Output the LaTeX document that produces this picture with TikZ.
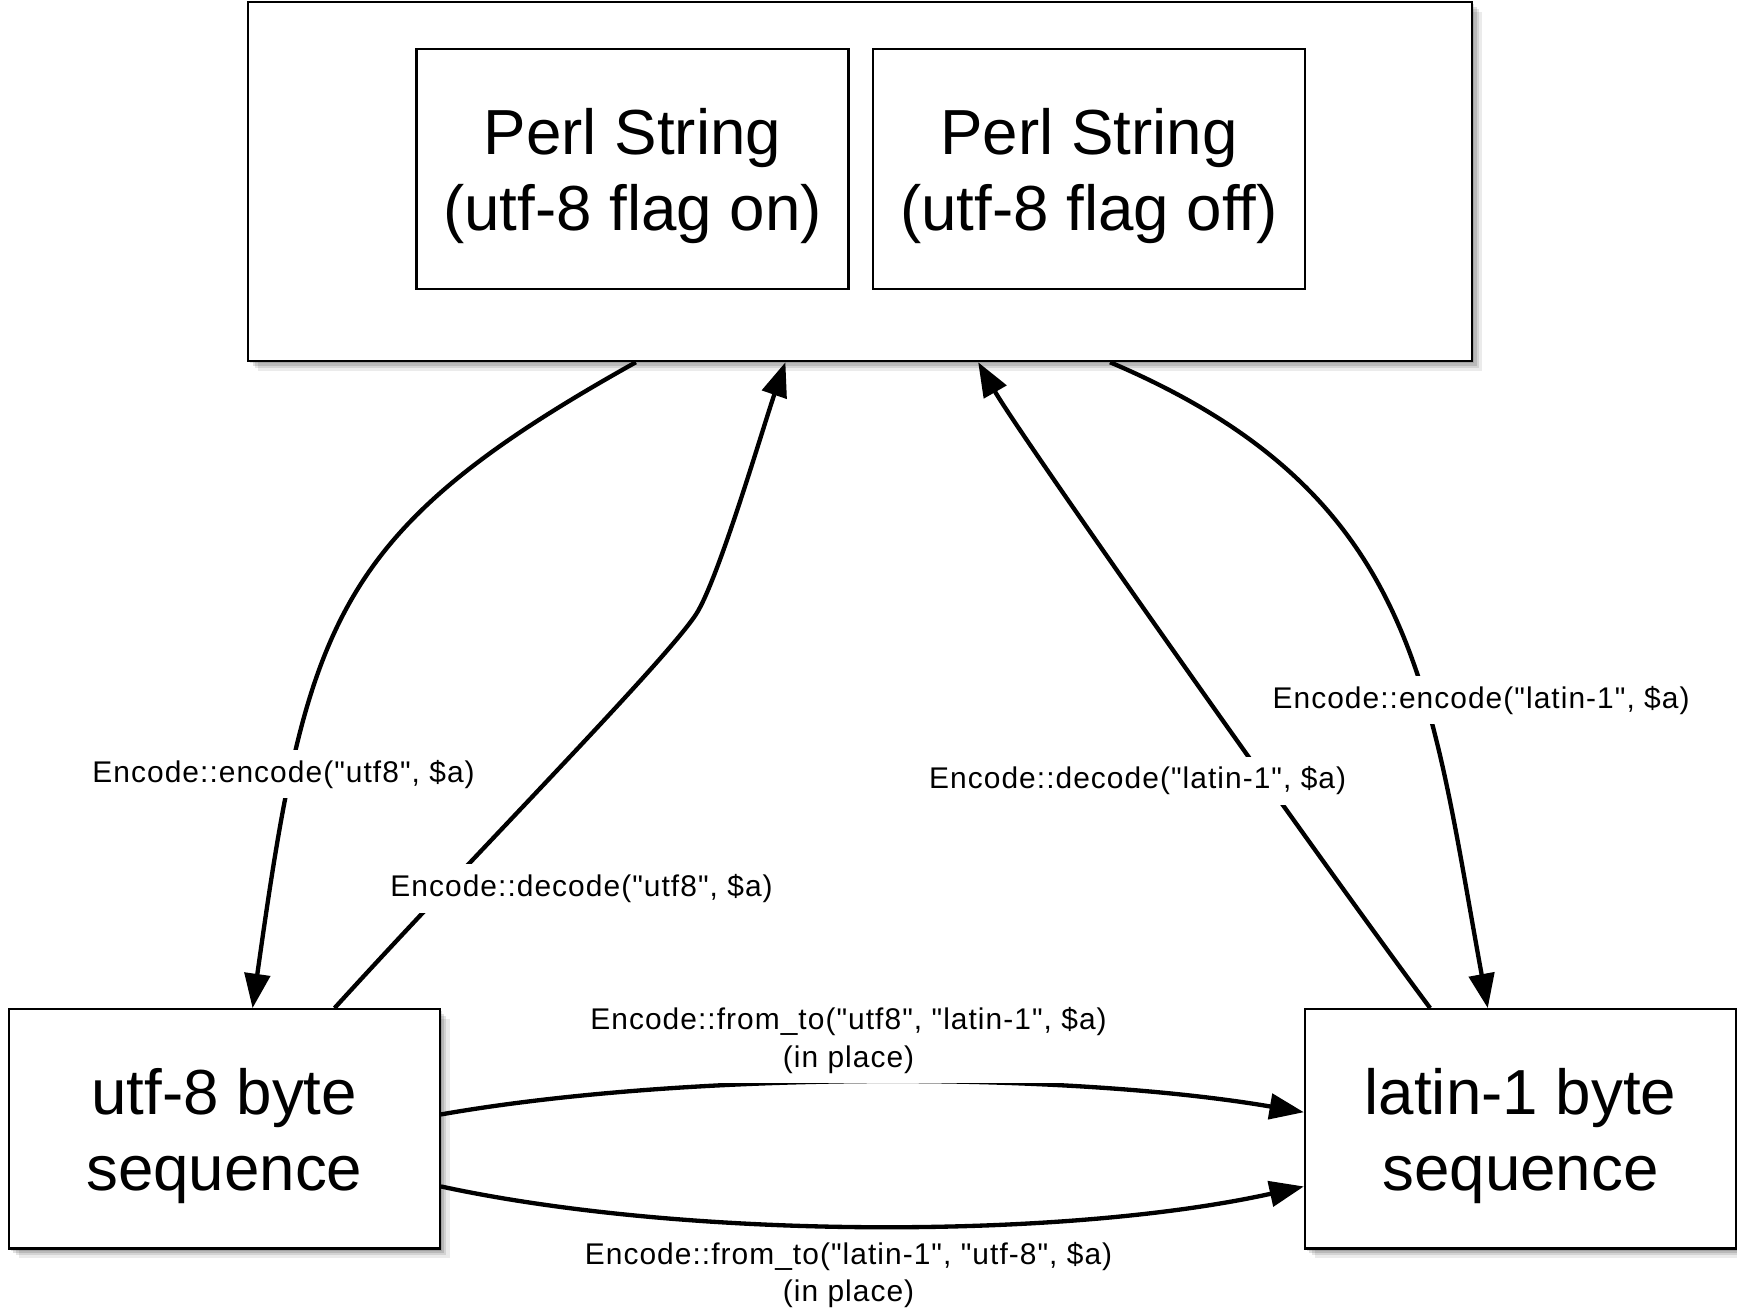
\documentclass[tikz,border=0pt]{standalone}
\usepackage{fontspec}
\setmainfont{Liberation Sans}
\newfontfamily\lblfont[LetterSpace=3.5]{Liberation Sans}
\usetikzlibrary{arrows.meta,shadows}
% taller first line, so the two text lines sit a little lower in their box
\newcommand{\firstline}{\rule{0pt}{54pt}}
\begin{document}
\begin{tikzpicture}[x=1pt,y=-1pt,
  box/.style={draw, line width=2pt, fill=white, inner sep=0pt, align=center,
    font=\fontsize{57.5}{68.5}\selectfont},
  shadowed/.style={
    drop shadow={shadow xshift=2pt,shadow yshift=-2pt,opacity=0.12,fill=black},
    drop shadow={shadow xshift=4pt,shadow yshift=-4pt,opacity=0.12,fill=black},
    drop shadow={shadow xshift=6pt,shadow yshift=-6pt,opacity=0.10,fill=black},
    drop shadow={shadow xshift=9pt,shadow yshift=-9pt,opacity=0.08,fill=black}},
  conn/.style={line width=3.9pt, -{Triangle[length=31pt,width=23pt]}},
  lbl/.style={fill=white, inner xsep=2pt, inner ysep=9pt, align=center,
    font=\lblfont\fontsize{27}{34}\selectfont}]

\fill[white] (0,0) rectangle (1568,1183);
\useasboundingbox (0,0) rectangle (1568,1183);

% Perl string container with its two variants
\node[box, shadowed, minimum width=1105pt, minimum height=324pt] (top) at (776.5,164) {};
\node[box, minimum width=390pt, minimum height=217pt] (on) at (571,152.5) {\firstline Perl String\\(utf-8 flag on)};
\node[box, minimum width=390pt, minimum height=217pt] (off) at (983,152.5) {\firstline Perl String\\(utf-8 flag off)};

% byte sequences
\node[box, shadowed, minimum width=389pt, minimum height=216pt] (utf) at (202.5,1019) {\firstline utf-8 byte\\sequence};
\node[box, shadowed, minimum width=389pt, minimum height=216pt] (lat) at (1372.5,1019) {\firstline latin-1 byte\\sequence};

% conversions
\draw[conn] (top.south -| 574,0) .. controls (300,480) and (277,561) .. (utf.north -| 228,0);
\draw[conn] (utf.north -| 302,0) .. controls (420,780) and (598,600) .. (628,555)
  .. controls (648,525) and (689,385) .. (top.south -| 709,0);
\draw[conn] (lat.north -| 1291,0) .. controls (1191,776) and (922,395) .. (top.south -| 883,0);
\draw[conn] (top.south -| 1002,0) .. controls (1280,445) and (1290,620) .. (lat.north -| 1343,0);
\draw[conn] (utf.east |- 0,1006) .. controls (620,967) and (960,967) .. (lat.west |- 0,1004);
\draw[conn] (utf.east |- 0,1071) .. controls (620,1119) and (960,1119) .. (lat.west |- 0,1071);

% labels
\node[lbl] (l1) at (256,699) {Encode::encode("utf8", \$a)};
\node[lbl] (l2) at (525,802) {Encode::decode("utf8", \$a)};
\node[lbl] (l3) at (1027,705) {Encode::decode("latin-1", \$a)};
\node[lbl] (l4) at (1337,632) {Encode::encode("latin-1", \$a)};
\node[lbl] (l5) at (766,939) {Encode::from\_to("utf8", "latin-1", \$a)\\(in place)};
\node[lbl] (l6) at (766,1151) {Encode::from\_to("latin-1", "utf-8", \$a)\\(in place)};
\end{tikzpicture}
\end{document}
